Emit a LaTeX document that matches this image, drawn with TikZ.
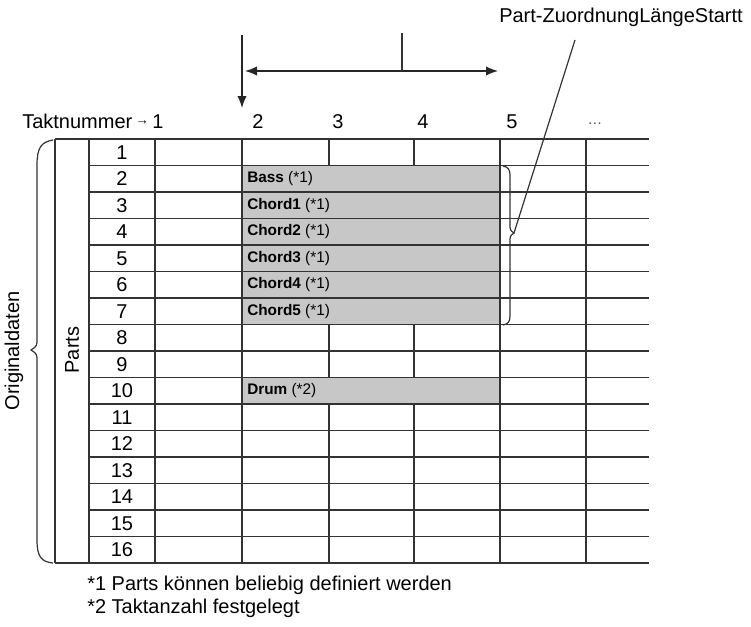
\documentclass[tikz,border=0pt]{standalone}
\usepackage{fontspec}
\setmainfont{Liberation Sans}
\usetikzlibrary{positioning,calc,arrows.meta}

\begin{document}
\begin{tikzpicture}[x=0.75pt,y=-0.75pt,
  font=\fontsize{15}{18}\selectfont,
  gridline/.style={draw=black!80,line width=1.1pt},
  thinline/.style={draw=black!80,line width=0.9pt},
  partcell/.style={fill=black!22},
  celltext/.style={anchor=west,inner sep=0pt,font=\fontsize{11.5}{13}\selectfont},
  headtext/.style={anchor=base,inner sep=0pt},
  pointer/.style={draw=black!85,line width=1pt,-{Latex[length=9pt,width=7pt]}}]
\useasboundingbox (0,0) rectangle (751,626);

%Table sizes
\def\rh{26.5}
\def\ttop{139}
\def\tbot{563}

%Shaded parts
\fill[partcell] (242,{\ttop+\rh}) rectangle (500,{\ttop+7*\rh});
\fill[partcell] (242,{\ttop+9*\rh}) rectangle (500,{\ttop+10*\rh});

%Horizontal lines
\foreach \i in {1,...,15}
  \draw[gridline] (89,{\ttop+\i*\rh}) -- (649,{\ttop+\i*\rh});
\draw[gridline] (55,\ttop) -- (649,\ttop);
\draw[gridline] (55,\tbot) -- (649,\tbot);

%Vertical lines
\foreach \x in {55,89,155,242,500,586}
  \draw[gridline] (\x,\ttop) -- (\x,\tbot);
\foreach \x in {329,414} {
  \draw[gridline] (\x,\ttop) -- (\x,{\ttop+\rh});
  \draw[gridline] (\x,{\ttop+7*\rh}) -- (\x,{\ttop+9*\rh});
  \draw[gridline] (\x,{\ttop+10*\rh}) -- (\x,\tbot);
}

%Row numbers
\foreach \r in {1,...,16}
  \node (row\r) at (122,{\ttop+(\r-0.5)*\rh}) {\r};

%Part names
\foreach \r/\name/\note in {2/Bass/1,3/Chord1/1,4/Chord2/1,5/Chord3/1,6/Chord4/1,7/Chord5/1,10/Drum/2}
  \node[celltext] (part\r) at (247,{\ttop+(\r-0.5)*\rh}) {\textbf{\name} (*\note)};

%Bar numbers
\node[headtext,anchor=base west] (takt) at (22,128) {Taktnummer\,\raisebox{2.5pt}{\fontsize{10}{10}\selectfont→}\,1};
\foreach \c/\x in {2/258,3/338,4/423,5/512}
  \node[headtext] (bar\c) at (\x,128) {\c};
\node[headtext,font=\fontsize{11}{11}\selectfont,text=black!70] (more) at (595,124) {…};

%Side labels
\node[rotate=90] (orig) at (14,351) {Originaldaten};
\node[rotate=90] (parts) at (72,350) {Parts};

%Start and length arrows
\coordinate (start) at (242,35);
\coordinate (startend) at (242,108);
\coordinate (lenL) at (245,71);
\coordinate (lenR) at (498,71);
\coordinate (lenmid) at (402,71);
\coordinate (lentop) at (402,33);
\draw[pointer] (start) -- (startend);
\draw[pointer,{Latex[length=9pt,width=7pt]}-{Latex[length=9pt,width=7pt]}] (lenL) -- (lenR);
\draw[thinline] (lentop) -- (lenmid);

%Braces
\coordinate (ltip) at (31,350);
\draw[thinline] (53,140) .. controls (41,142) and (37,148) .. (37,165) -- (37,338)
  .. controls (37,346) .. (ltip) .. controls (37,354) .. (37,362) -- (37,540)
  .. controls (37,556) and (41,562) .. (53,563);
\coordinate (rtip) at (514,233);
\draw[thinline] (503,166) .. controls (508,167) and (510,169) .. (510,176) -- (510,224)
  .. controls (510,230) .. (rtip) .. controls (510,236) .. (510,242) -- (510,316)
  .. controls (510,322) and (508,324) .. (503,325);

%Label of the part assignment
\node (zuord) at (621,17) {Part-ZuordnungLängeStartt};
\coordinate (lead) at (575,40);
\draw[thinline] (lead) -- (rtip);

%Footnotes
\node[anchor=base west,inner sep=0pt] (note1) at (87,590) {*1 Parts können beliebig definiert werden};
\node[anchor=base west,inner sep=0pt] (note2) at (87,613) {*2 Taktanzahl festgelegt};
\end{tikzpicture}
\end{document}
